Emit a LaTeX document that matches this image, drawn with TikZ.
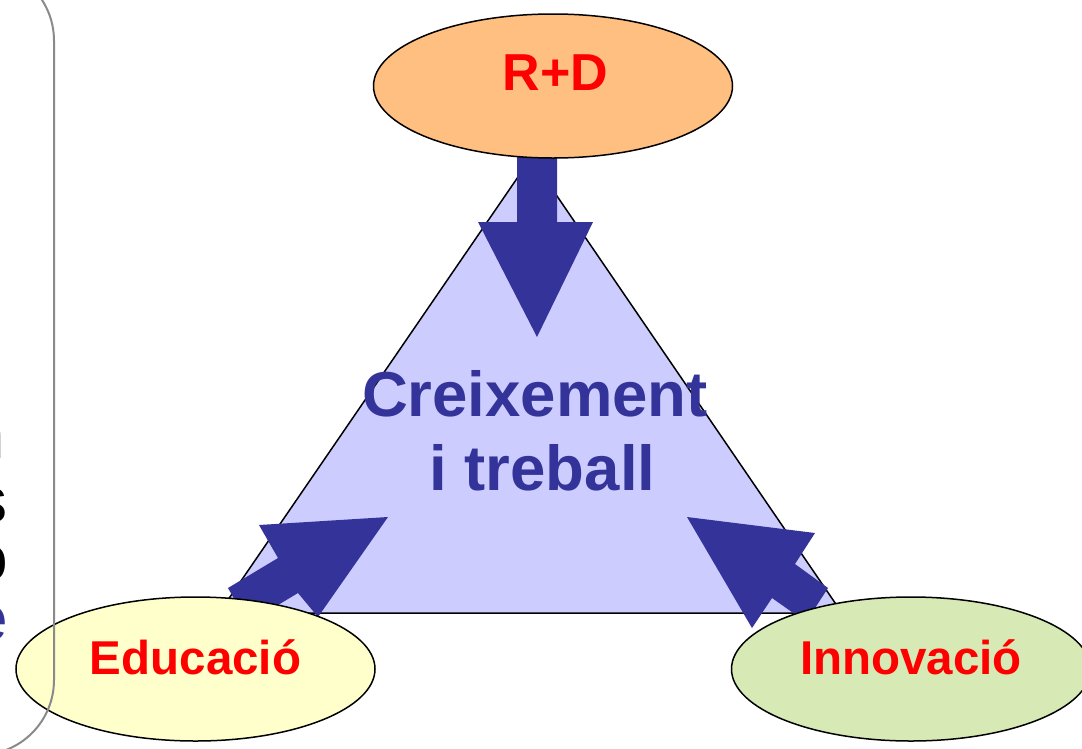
\documentclass[tikz,border=0pt]{standalone}
\usepackage{fontspec}
\setmainfont{Liberation Sans}
\usetikzlibrary{shapes.geometric}
\definecolor{navy}{HTML}{333399}
\definecolor{trifill}{HTML}{CCCCFF}
\definecolor{rdfill}{HTML}{FFBF80}
\definecolor{edfill}{HTML}{FFFFCC}
\definecolor{infill}{HTML}{D7E9B5}
\definecolor{framegray}{HTML}{8A8A8A}
\begin{document}
\begin{tikzpicture}[x=1pt,y=-1pt,
  oval/.style={ellipse, draw=black, line width=1.5pt, minimum width=359pt, minimum height=144pt, inner sep=0pt},
  ovaltext/.style={anchor=base, inner sep=0pt, text=red, font=\fontsize{47.5}{50}\selectfont\bfseries},
  bigtext/.style={anchor=base, inner sep=0pt, text=navy, font=\fontsize{63.5}{70}\selectfont\bfseries},
  blockarrow/.style={fill=navy},
  frag/.style={anchor=base east, inner sep=0pt, font=\fontsize{64}{70}\selectfont}
]
\useasboundingbox (0,0) rectangle (1082,748);
% clipped text fragments at the left edge
\node[frag, text=gray!80] (f1) at (5,458) {n};
\node[frag, text=black] (f2) at (8,522) {s};
\node[frag, text=black] (f3) at (8,580) {o};
\node[frag, text=navy] (f4) at (8,640) {e};
% triangle
\draw[fill=trifill, line width=1.5pt, line join=miter] (531,158) -- (842,613) -- (219,613) -- cycle;
\node[bigtext] (c1) at (535,416) {Creixement};
\node[bigtext] (c2) at (542.5,490) {i treball};
% block arrows
\fill[blockarrow] (517,150) -- (557,150) -- (557,222) -- (593,222) -- (537,337) -- (478,222) -- (517,222) -- cycle;
\fill[blockarrow] (228,588) -- (278,558) -- (259,525) -- (388,517) -- (318,617) -- (298,593) -- (248,623) -- cycle;
\fill[blockarrow] (828,588) -- (795,564) -- (815,533) -- (687,517) -- (752,628) -- (772,598) -- (806,622) -- cycle;
% ovals
\node[oval, fill=rdfill] (rd) at (553,86) {};
\node[oval, fill=edfill] (ed) at (195.5,669) {};
\node[oval, fill=infill] (in) at (911,669) {};
\node[ovaltext, font=\fontsize{52}{56}\selectfont\bfseries] (rdt) at (555.5,90) {R+D};
\node[ovaltext] (edt) at (195.5,674) {Educació};
\node[ovaltext] (int) at (911,674) {Innovació};
% frame
\draw[framegray, line width=2pt, rounded corners=75pt] (-200,-34.3) -- (54,-34.3) -- (54,755) -- (-200,755);
\end{tikzpicture}
\end{document}
